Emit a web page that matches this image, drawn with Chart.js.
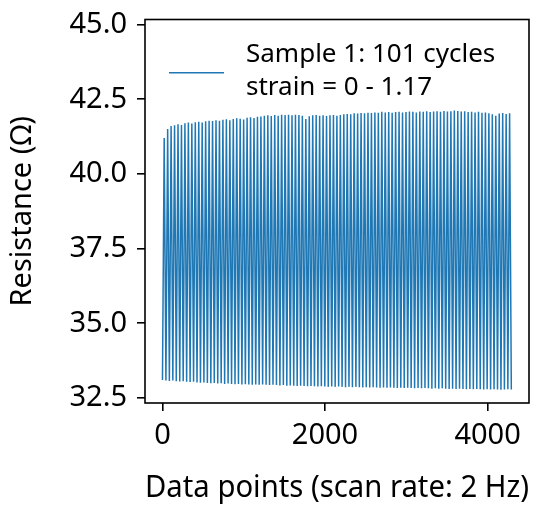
<!DOCTYPE html>
<html>
<head>
<meta charset="utf-8">
<script src="https://cdn.jsdelivr.net/npm/chart.js@4.4.1/dist/chart.umd.min.js"></script>
<style>
  html, body { margin: 0; padding: 0; background: #fff; }
  canvas { display: block; }
</style>
</head>
<body>
<canvas id="c" width="539" height="510"></canvas>
<script>
// ---- data ----
const cycleLength = 42.5; // data points per strain cycle
const peaks = [
  41.20,41.50,41.60,41.63,41.66,41.64,41.70,41.72,41.69,41.73,
  41.75,41.72,41.76,41.78,41.77,41.80,41.78,41.81,41.83,41.80,
  41.84,41.86,41.85,41.82,41.88,41.90,41.87,41.91,41.92,41.95,
  41.96,41.94,41.97,41.95,41.98,41.97,41.98,41.96,41.98,41.97,
  41.95,41.84,41.93,41.96,41.97,41.95,41.96,41.94,41.96,41.97,
  41.95,41.97,42.00,42.01,42.00,42.03,42.02,42.04,42.03,42.05,
  42.04,42.06,42.05,42.08,42.06,42.07,42.05,42.07,42.08,42.06,
  42.07,42.09,42.08,42.06,42.09,42.08,42.10,42.07,42.09,42.10,
  42.08,42.11,42.09,42.10,42.12,42.11,42.09,42.10,42.07,42.08,
  42.06,42.08,42.05,42.06,42.03,42.00,41.95,42.02,42.04,42.01,
  42.03
];
const troughs = [
  33.10,33.08,33.07,33.08,33.06,33.05,33.06,33.04,33.03,33.04,
  33.02,33.01,33.02,33.00,32.99,33.00,32.98,32.99,32.97,32.98,
  32.97,32.96,32.97,32.95,32.96,32.95,32.94,32.95,32.94,32.95,
  32.94,32.93,32.94,32.93,32.92,32.93,32.91,32.92,32.91,32.90,
  32.91,32.90,32.89,32.90,32.89,32.88,32.89,32.88,32.87,32.88,
  32.87,32.88,32.87,32.86,32.87,32.86,32.87,32.86,32.85,32.86,
  32.85,32.86,32.85,32.84,32.85,32.84,32.85,32.84,32.83,32.84,
  32.83,32.84,32.83,32.82,32.83,32.82,32.83,32.82,32.81,32.82,
  32.81,32.82,32.81,32.80,32.81,32.80,32.81,32.80,32.79,32.80,
  32.79,32.80,32.79,32.78,32.79,32.78,32.79,32.78,32.77,32.78,
  32.79,32.78
];
const xTicks = [0, 2000, 4000];
const yTicks = [32.5, 35.0, 37.5, 40.0, 42.5, 45.0];
const legendLines = ['Sample 1: 101 cycles', 'strain = 0 - 1.17'];
const xTitle = 'Data points (scan rate: 2 Hz)';
const yTitle = 'Resistance (\u03A9)';

// build series: trough -> peak -> trough ...
const series = [];
for (let i = 0; i < peaks.length; i++) {
  series.push({ x: i * cycleLength, y: troughs[i] });
  series.push({ x: i * cycleLength + cycleLength / 2, y: peaks[i] });
}
series.push({ x: peaks.length * cycleLength, y: troughs[peaks.length] });

const FONT = '"Noto Sans"';
const LINE_COLOR = '#1f77b4';

const frameAndLegend = {
  id: 'frameAndLegend',
  afterDraw(chart) {
    const { ctx, chartArea: a } = chart;
    ctx.save();
    ctx.strokeStyle = '#000';
    ctx.lineWidth = 1.6;
    ctx.strokeRect(a.left, a.top, a.right - a.left, a.bottom - a.top);
    // legend
    ctx.strokeStyle = LINE_COLOR;
    ctx.lineWidth = 1.5;
    ctx.beginPath();
    ctx.moveTo(169, 72.7);
    ctx.lineTo(224, 72.7);
    ctx.stroke();
    ctx.fillStyle = '#000';
    ctx.font = '26px ' + FONT;
    ctx.textBaseline = 'alphabetic';
    ctx.textAlign = 'left';
    ctx.fillText(legendLines[0], 246, 62);
    ctx.fillText(legendLines[1], 246, 95);
    ctx.restore();
  }
};

new Chart(document.getElementById('c'), {
  type: 'line',
  data: {
    datasets: [{
      data: series,
      borderColor: LINE_COLOR,
      borderWidth: 1.5,
      pointRadius: 0,
      tension: 0,
      fill: false
    }]
  },
  options: {
    responsive: false,
    animation: false,
    devicePixelRatio: 1,
    layout: { padding: { top: 19.5, right: 10, left: 0, bottom: 0 } },
    plugins: { legend: { display: false }, tooltip: { enabled: false } },
    scales: {
      x: {
        type: 'linear',
        min: -215, max: 4510,
        afterBuildTicks(s) { s.ticks = xTicks.map(v => ({ value: v })); },
        afterFit(s) { s.height = 107; s.paddingLeft = 0; s.paddingRight = 0; },
        ticks: { color: '#000', font: { family: FONT, size: 29 }, padding: 7, maxRotation: 0,
                 callback: v => String(v) },
        grid: { drawOnChartArea: false, drawTicks: true, tickLength: 8, color: '#000', lineWidth: 1.6 },
        border: { display: false },
        title: { display: true, text: xTitle, color: '#000',
                 font: { family: FONT, size: 31, lineHeight: 1.2 }, padding: { top: 0, bottom: 3 } }
      },
      y: {
        type: 'linear',
        min: 32.33, max: 45.17,
        afterBuildTicks(s) { s.ticks = yTicks.map(v => ({ value: v })); },
        afterFit(s) { s.width = 145; s.paddingTop = 0; s.paddingBottom = 0; },
        ticks: { color: '#000', font: { family: FONT, size: 29 }, padding: 10,
                 callback: v => Number(v).toFixed(1) },
        grid: { drawOnChartArea: false, drawTicks: true, tickLength: 8, color: '#000', lineWidth: 1.6 },
        border: { display: false },
        title: { display: true, text: yTitle, color: '#000',
                 font: { family: FONT, size: 29, lineHeight: 1.2 }, padding: { top: 5, bottom: 0 } }
      }
    }
  },
  plugins: [frameAndLegend]
});
</script>
</body>
</html>
